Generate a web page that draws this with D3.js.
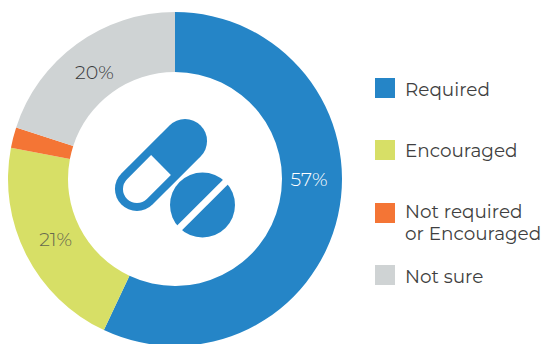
<!DOCTYPE html>
<html>
<head>
<meta charset="utf-8">
<script src="https://cdn.jsdelivr.net/npm/d3@7/dist/d3.min.js"></script>
<style>
  html, body { margin: 0; padding: 0; background: #fff; }
  svg { display: block; }
  text { font-family: "Montserrat", Lato, "Open Sans", sans-serif; fill: #3f3f41; }
</style>
</head>
<body>
<svg id="chart" width="543" height="344"></svg>
<script>
const categories = ["Required", "Encouraged", "Not required or Encouraged", "Not sure"];
const shares = [57, 21, 2, 20];
const colours = ["#2585c7", "#d7df66", "#f47535", "#cfd3d4"];
const labelColours = ["#ffffff", "#66684f", null, "#3a3a3c"];
const legendLines = [["Required"], ["Encouraged"], ["Not required", "or Encouraged"], ["Not sure"]];
const legendRows = [88, 150, 213, 275];
const legendBaselines = [95.5, 157, 218, 282.5];
// Where each printed share sits around the ring, in degrees clockwise from the top.
const labelAngles = [90, 243, null, 323];

const svg = d3.select("#chart");
const cx = 175, cy = 179, outer = 167, inner = 107, labelRadius = 134;

const colour = d3.scaleOrdinal().domain(categories).range(colours);
const pie = d3.pie().value((d, i) => shares[i]).sort(null);
const arc = d3.arc().innerRadius(inner).outerRadius(outer);

const ring = svg.append("g").attr("transform", `translate(${cx},${cy})`);
const slices = pie(categories);

ring.selectAll("path").data(slices).join("path")
  .attr("d", arc)
  .attr("fill", d => colour(d.data));

// Value labels sit in the band; the thin orange slice has none.
ring.selectAll("text").data(slices.filter(d => labelAngles[d.index] !== null)).join("text")
  .attr("transform", d => {
    const a = labelAngles[d.index] * Math.PI / 180;
    return `translate(${labelRadius * Math.sin(a)},${-labelRadius * Math.cos(a)})`;
  })
  .attr("text-anchor", "middle")
  .attr("dy", "0.35em")
  .attr("font-size", 19)
  .attr("font-weight", 300)
  .style("fill", d => labelColours[d.index])
  .text(d => d.value + "%");

// Capsule and tablet emblem in the hole of the ring.
const icon = svg.append("g").attr("fill", colours[0]);
const capsule = icon.append("g").attr("transform", "translate(161,165) rotate(-45)");
capsule.append("rect")
  .attr("x", -56).attr("y", -22).attr("width", 112).attr("height", 44).attr("rx", 22);
capsule.append("path").attr("fill", "#fff")
  .attr("d", "M0,-14 L-34,-14 A14,14 0 0 0 -34,14 L0,14 Z");

const tablet = icon.append("g").attr("transform", "translate(202.5,205) rotate(-45)");
tablet.append("circle").attr("r", 32.5);
tablet.append("rect").attr("fill", "#fff")
  .attr("x", -36).attr("y", -3.4).attr("width", 72).attr("height", 6.8);

// Legend
const legend = svg.append("g");
const rows = legend.selectAll("g").data(categories).join("g");
rows.append("rect")
  .attr("x", 375).attr("y", (d, i) => legendRows[i] - 10).attr("width", 20).attr("height", 20)
  .attr("fill", d => colour(d));
rows.append("text")
  .attr("font-size", 18.4)
  .each(function (d, i) {
    d3.select(this).selectAll("tspan").data(legendLines[i]).join("tspan")
      .attr("x", 405)
      .attr("y", (t, j) => legendBaselines[i] + j * 21.7)
      .text(t => t);
  });
</script>
</body>
</html>
